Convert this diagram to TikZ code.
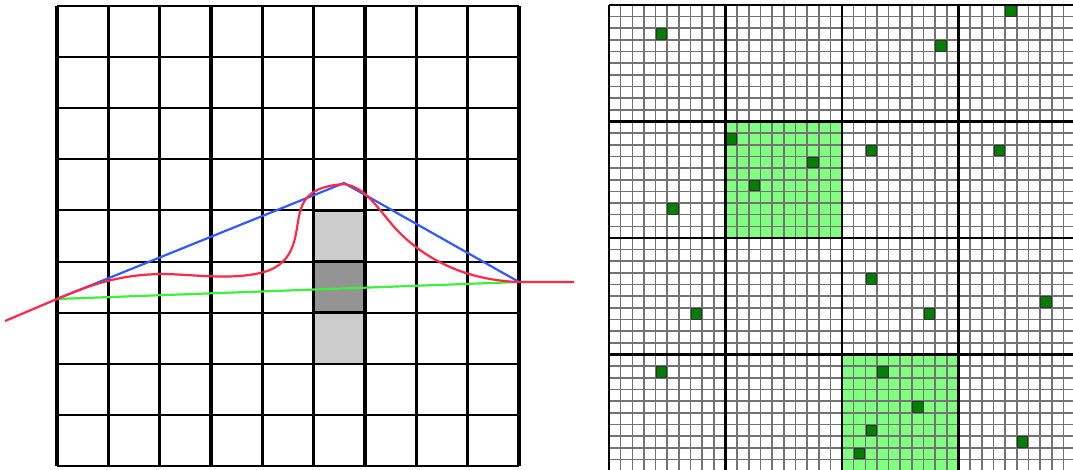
\documentclass[tikz,border=0pt]{standalone}
\definecolor{lgreen}{RGB}{128,255,128}
\definecolor{dgreen}{RGB}{0,128,0}
\definecolor{cgreen}{RGB}{60,240,60}
\definecolor{cblue}{RGB}{50,90,255}
\definecolor{cred}{RGB}{255,40,70}
\begin{document}
\begin{tikzpicture}[x=1pt,y=-1pt,
  vline/.style={line width=3.2pt,black},
  hline/.style={line width=2pt,black},
  fine/.style={line width=1.6pt,black!55},
  coarse/.style={line width=2.8pt,black},
  curve/.style={line width=2.2pt},
  lg/.style={fill=lgreen},
  dg/.style={fill=dgreen,draw=black!80,line width=0.8pt}]
\useasboundingbox (0,0) rectangle (1073,470);
\fill[white] (0,0) rectangle (1073,470);
% ---------- left panel ----------
\def\cw{51.33}\def\ch{51.11}
\fill[black!20] (57+5*\cw,6+4*\ch) rectangle (57+6*\cw,6+7*\ch);
\fill[black!42] (57+5*\cw,6+5*\ch) rectangle (57+6*\cw,6+6*\ch);
\foreach \i in {0,...,9} \draw[hline] (57,6+\i*\ch) -- (519,6+\i*\ch);
\foreach \i in {0,...,9} \draw[vline] (57+\i*\cw,6) -- (57+\i*\cw,466);
\draw[line width=2.8pt] (57+5*\cw,6+4*\ch) -- (57+6*\cw,6+4*\ch)
  (57+5*\cw,6+5*\ch) -- (57+6*\cw,6+5*\ch)
  (57+5*\cw,6+6*\ch) -- (57+6*\cw,6+6*\ch);
\coordinate (A) at (57,299);
\coordinate (P) at (344,183);
\coordinate (B) at (519,282);
\draw[curve,cgreen] (A) -- (B);
\draw[curve,cblue] (A) -- (P) -- (B);
\draw[curve,cred] (5,321) -- (A)
  .. controls (90,285) and (120,274) .. (165,274)
  .. controls (200,275) and (240,281) .. (270,270)
  .. controls (298,258) and (295,230) .. (300,212)
  .. controls (305,192) and (320,186) .. (344,184)
  .. controls (366,188) and (375,205) .. (395,228)
  .. controls (420,255) and (460,280) .. (B) -- (574,282);
% ---------- right panel ----------
\def\s{11.65}
\fill[lg] (609+10*\s,5+10*\s) rectangle (609+20*\s,5+20*\s);
\fill[lg] (609+20*\s,5+30*\s) rectangle (609+30*\s,5+40*\s);
\foreach \i in {0,...,40} {
  \draw[fine] (609,5+\i*\s) -- (1075,5+\i*\s);
  \draw[fine] (609+\i*\s,5) -- (609+\i*\s,472);
}
\foreach \c/\r in {4/2,28/3,34/0,10/11,17/13,12/15,22/12,33/12,5/17,22/23,37/25,7/26,27/26,4/31,23/31,26/34,22/36,21/38,35/37}
  \draw[dg] (609+\c*\s+0.6,5+\r*\s+0.6) rectangle (609+\c*\s+\s-0.6,5+\r*\s+\s-0.6);
\foreach \i in {0,...,4} {
  \draw[coarse] (609,5+\i*10*\s) -- (1075,5+\i*10*\s);
  \draw[coarse] (609+\i*10*\s,5) -- (609+\i*10*\s,472);
}
\end{tikzpicture}
\end{document}
